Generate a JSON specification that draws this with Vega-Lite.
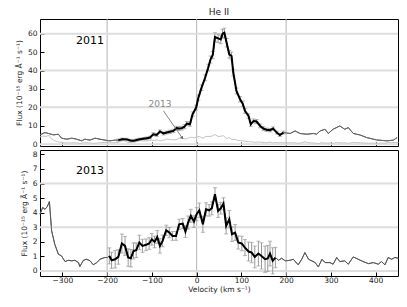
{
  "$schema": "https://vega.github.io/schema/vega-lite/v6.json",
  "padding": {"left": 14, "top": 7, "right": 4, "bottom": 2},
  "spacing": 0,
  "config": {
    "font": "DejaVu Sans",
    "view": {"stroke": "black", "strokeWidth": 1},
    "title": {"color": "#222222"},
    "axis": {
      "domain": false,
      "grid": false,
      "tickColor": "black",
      "tickSize": -4,
      "labelOverlap": false,
      "labelFontSize": 7.5,
      "labelColor": "#222",
      "titleFontSize": 7.5,
      "titleFontWeight": "normal",
      "titleColor": "#222"
    },
    "axisX": {"labelPadding": 4},
    "axisY": {"labelPadding": 7}
  },
  "datasets": {
    "gx": [{"v": -200}, {"v": 0}, {"v": 200}],
    "gy1": [{"f": 0}, {"f": 20}, {"f": 40}, {"f": 60}],
    "gy2": [{"f": 0}, {"f": 3}, {"f": 6}],
    "d2011": [
      {"v": -350, "f": 5.05}, {"v": -339, "f": 6.3}, {"v": -331, "f": 5.8}, {"v": -320, "f": 5.05},
      {"v": -309, "f": 5.4}, {"v": -302, "f": 3.25}, {"v": -290, "f": 2.7}, {"v": -279, "f": 3.25},
      {"v": -268, "f": 2.7}, {"v": -257, "f": 1.8}, {"v": -250, "f": 2.7}, {"v": -238, "f": 2.2},
      {"v": -227, "f": 3.25}, {"v": -216, "f": 2.7}, {"v": -205, "f": 2.2}, {"v": -194, "f": 1.8},
      {"v": -182, "f": 2.2},
      {"v": -175, "f": 2.2, "e": 0.6}, {"v": -166, "f": 2.7, "e": 0.6}, {"v": -156, "f": 2.6, "e": 0.6},
      {"v": -148, "f": 2.0, "e": 0.6}, {"v": -141, "f": 1.8, "e": 0.6}, {"v": -134, "f": 2.3, "e": 0.6},
      {"v": -127, "f": 2.7, "e": 0.6}, {"v": -119, "f": 3.0, "e": 0.6}, {"v": -112, "f": 3.2, "e": 0.7},
      {"v": -104, "f": 3.6, "e": 0.7}, {"v": -97, "f": 5.4, "e": 0.8}, {"v": -89, "f": 5.0, "e": 0.8},
      {"v": -82, "f": 6.9, "e": 0.8}, {"v": -74, "f": 5.8, "e": 0.8}, {"v": -67, "f": 6.3, "e": 0.8},
      {"v": -60, "f": 6.7, "e": 0.9}, {"v": -52, "f": 7.2, "e": 0.9}, {"v": -45, "f": 8.7, "e": 1.0},
      {"v": -39, "f": 8.5, "e": 1.0}, {"v": -33, "f": 8.7, "e": 1.0}, {"v": -27, "f": 9.5, "e": 1.1},
      {"v": -22, "f": 11.2, "e": 1.1}, {"v": -15, "f": 10.8, "e": 1.1}, {"v": -9, "f": 16.3, "e": 1.2},
      {"v": -1, "f": 19.9, "e": 1.3}, {"v": 4, "f": 25.3, "e": 1.4}, {"v": 11, "f": 30.7, "e": 1.5},
      {"v": 19, "f": 36.1, "e": 1.6}, {"v": 26, "f": 41.6, "e": 1.8}, {"v": 31, "f": 46.0, "e": 1.9},
      {"v": 36, "f": 48.4, "e": 2.0}, {"v": 41, "f": 58.2, "e": 2.3}, {"v": 48, "f": 57.5, "e": 2.3},
      {"v": 54, "f": 56.9, "e": 2.3}, {"v": 58, "f": 60.0, "e": 2.4}, {"v": 62, "f": 60.5, "e": 2.5},
      {"v": 67, "f": 55.1, "e": 2.3}, {"v": 73, "f": 48.8, "e": 2.1}, {"v": 78, "f": 47.9, "e": 2.1},
      {"v": 82, "f": 38.8, "e": 1.8}, {"v": 89, "f": 28.9, "e": 1.6}, {"v": 97, "f": 24.4, "e": 1.5},
      {"v": 103, "f": 22.0, "e": 1.4}, {"v": 108, "f": 18.1, "e": 1.3}, {"v": 116, "f": 15.3, "e": 1.2},
      {"v": 121, "f": 10.8, "e": 1.1}, {"v": 127, "f": 12.6, "e": 1.1}, {"v": 134, "f": 12.3, "e": 1.1},
      {"v": 142, "f": 9.9, "e": 1.0}, {"v": 149, "f": 8.5, "e": 1.0}, {"v": 156, "f": 7.8, "e": 0.9},
      {"v": 164, "f": 7.6, "e": 0.9}, {"v": 171, "f": 8.5, "e": 0.9}, {"v": 179, "f": 6.3, "e": 0.8},
      {"v": 186, "f": 5.0, "e": 0.8}, {"v": 194, "f": 6.3, "e": 0.8},
      {"v": 209, "f": 5.8}, {"v": 220, "f": 7.2}, {"v": 231, "f": 5.8}, {"v": 246, "f": 5.4},
      {"v": 261, "f": 5.8}, {"v": 268, "f": 5.4}, {"v": 276, "f": 7.2}, {"v": 287, "f": 8.1},
      {"v": 294, "f": 5.8}, {"v": 305, "f": 8.1}, {"v": 320, "f": 9.9}, {"v": 331, "f": 8.1},
      {"v": 339, "f": 9.0}, {"v": 350, "f": 5.8}, {"v": 365, "f": 5.0}, {"v": 380, "f": 3.6},
      {"v": 402, "f": 2.3}, {"v": 425, "f": 1.8}, {"v": 440, "f": 2.2}, {"v": 448, "f": 3.6}
    ],
    "d2013": [
      {"v": -350, "f": 3.9}, {"v": -344, "f": 4.35}, {"v": -339, "f": 4.23}, {"v": -334, "f": 4.4},
      {"v": -329, "f": 4.76}, {"v": -324, "f": 2.75}, {"v": -317, "f": 1.83}, {"v": -309, "f": 1.15},
      {"v": -302, "f": 1.03}, {"v": -294, "f": 0.64}, {"v": -287, "f": 0.73}, {"v": -279, "f": 0.69},
      {"v": -272, "f": 0.73}, {"v": -264, "f": 0.57}, {"v": -261, "f": 0.3}, {"v": -253, "f": 0.73},
      {"v": -246, "f": 0.8}, {"v": -238, "f": 0.69}, {"v": -231, "f": 0.42}, {"v": -223, "f": 0.57},
      {"v": -216, "f": 0.8}, {"v": -205, "f": 0.92}, {"v": -199, "f": 0.92},
      {"v": -195, "f": 1.03, "e": 0.55}, {"v": -190, "f": 0.73, "e": 0.55}, {"v": -182, "f": 0.8, "e": 0.6},
      {"v": -175, "f": 0.96, "e": 0.5}, {"v": -167, "f": 1.88, "e": 0.65}, {"v": -160, "f": 1.72, "e": 0.65},
      {"v": -153, "f": 0.92, "e": 0.6}, {"v": -147, "f": 0.87, "e": 0.6}, {"v": -141, "f": 1.37, "e": 0.55},
      {"v": -135, "f": 1.42, "e": 0.5}, {"v": -128, "f": 1.95, "e": 0.5}, {"v": -121, "f": 1.72, "e": 0.45},
      {"v": -113, "f": 1.79, "e": 0.4}, {"v": -106, "f": 1.88, "e": 0.4}, {"v": -100, "f": 2.17, "e": 0.4},
      {"v": -94, "f": 1.99, "e": 0.4}, {"v": -88, "f": 2.33, "e": 0.45}, {"v": -82, "f": 1.72, "e": 0.5},
      {"v": -76, "f": 2.06, "e": 0.4}, {"v": -68, "f": 2.79, "e": 0.35}, {"v": -61, "f": 2.63, "e": 0.35},
      {"v": -54, "f": 2.4, "e": 0.3}, {"v": -46, "f": 2.4, "e": 0.3}, {"v": -39, "f": 3.2, "e": 0.35},
      {"v": -31, "f": 3.25, "e": 0.35}, {"v": -25, "f": 2.7, "e": 0.4}, {"v": -19, "f": 3.32, "e": 0.45},
      {"v": -13, "f": 3.78, "e": 0.45}, {"v": -6, "f": 3.39, "e": 0.4}, {"v": 0, "f": 3.89, "e": 0.45},
      {"v": 6, "f": 4.16, "e": 0.5}, {"v": 14, "f": 3.2, "e": 0.55}, {"v": 21, "f": 4.23, "e": 0.45},
      {"v": 28, "f": 4.16, "e": 0.4}, {"v": 34, "f": 4.3, "e": 0.45}, {"v": 41, "f": 5.26, "e": 0.45},
      {"v": 48, "f": 4.12, "e": 0.45}, {"v": 54, "f": 4.3, "e": 0.4}, {"v": 60, "f": 4.62, "e": 0.4},
      {"v": 66, "f": 3.09, "e": 0.55}, {"v": 73, "f": 3.55, "e": 0.6}, {"v": 79, "f": 2.52, "e": 0.5},
      {"v": 86, "f": 2.63, "e": 0.55}, {"v": 93, "f": 1.95, "e": 0.45}, {"v": 101, "f": 1.88, "e": 0.5},
      {"v": 108, "f": 1.6, "e": 0.55}, {"v": 116, "f": 1.33, "e": 0.65}, {"v": 123, "f": 1.26, "e": 0.7},
      {"v": 130, "f": 0.96, "e": 0.75}, {"v": 138, "f": 1.19, "e": 0.85}, {"v": 145, "f": 1.03, "e": 0.9},
      {"v": 153, "f": 0.8, "e": 0.9}, {"v": 159, "f": 0.85, "e": 0.9}, {"v": 164, "f": 1.19, "e": 0.85},
      {"v": 170, "f": 0.69, "e": 0.9}, {"v": 176, "f": 0.92, "e": 0.7},
      {"v": 183, "f": 0.73}, {"v": 190, "f": 0.87}, {"v": 198, "f": 0.69}, {"v": 209, "f": 0.73},
      {"v": 216, "f": 0.8}, {"v": 227, "f": 0.42}, {"v": 235, "f": 0.8}, {"v": 242, "f": 1.26},
      {"v": 250, "f": 0.8}, {"v": 265, "f": 0.57}, {"v": 272, "f": 0.27}, {"v": 280, "f": 0.8},
      {"v": 287, "f": 0.57}, {"v": 298, "f": 0.57}, {"v": 305, "f": 0.46}, {"v": 313, "f": 0.92},
      {"v": 320, "f": 0.64}, {"v": 331, "f": 0.69}, {"v": 339, "f": 0.46}, {"v": 350, "f": 0.96},
      {"v": 361, "f": 0.8}, {"v": 372, "f": 0.64}, {"v": 384, "f": 0.5}, {"v": 395, "f": 0.57},
      {"v": 406, "f": 0.46}, {"v": 413, "f": 0.64}, {"v": 421, "f": 0.42}, {"v": 428, "f": 0.92},
      {"v": 436, "f": 0.8}, {"v": 443, "f": 0.92}, {"v": 451, "f": 0.87}
    ]
  },
  "vconcat": [
    {
      "width": 358,
      "height": 127,
      "title": {"text": "He II", "fontSize": 9, "fontWeight": "normal", "color": "#222222", "offset": 2},
      "layer": [
        {
          "data": {"name": "d2011"},
          "mark": {"type": "line", "color": "#666666", "strokeWidth": 1},
          "encoding": {
            "x": {"field": "v", "type": "quantitative",
              "scale": {"domain": [-350, 450], "nice": false, "zero": false},
              "axis": {"values": [-300, -200, -100, 0, 100, 200, 300, 400], "labels": false, "title": null, "labelOverlap": false}},
            "y": {"field": "f", "type": "quantitative", "title": "Flux (10⁻¹⁵ erg Å⁻¹ s⁻¹)",
              "scale": {"domain": [-1, 68], "nice": false, "zero": false},
              "axis": {"values": [0, 10, 20, 30, 40, 50, 60], "title": "Flux (10⁻¹⁵ erg Å⁻¹ s⁻¹)", "labelOverlap": false}}
          }
        },
        {
          "data": {"name": "gx"},
          "mark": {"type": "rule", "color": "#b5b5b5", "strokeWidth": 1},
          "encoding": {"x": {"field": "v", "type": "quantitative",
            "axis": {"values": [-300, -200, -100, 0, 100, 200, 300, 400], "labels": false, "title": null, "labelOverlap": false}}}
        },
        {
          "data": {"name": "gy1"},
          "mark": {"type": "rule", "color": "#dddddd", "strokeWidth": 2},
          "encoding": {"y": {"field": "f", "type": "quantitative", "title": "Flux (10⁻¹⁵ erg Å⁻¹ s⁻¹)",
            "axis": {"values": [0, 10, 20, 30, 40, 50, 60], "title": "Flux (10⁻¹⁵ erg Å⁻¹ s⁻¹)", "labelOverlap": false}}}
        },
        {
          "data": {"name": "d2011"},
          "mark": {"type": "line", "color": "#666666", "strokeWidth": 1},
          "encoding": {
            "x": {"field": "v", "type": "quantitative",
              "axis": {"values": [-300, -200, -100, 0, 100, 200, 300, 400], "labels": false, "title": null, "labelOverlap": false}},
            "y": {"field": "f", "type": "quantitative", "title": "Flux (10⁻¹⁵ erg Å⁻¹ s⁻¹)",
              "axis": {"values": [0, 10, 20, 30, 40, 50, 60], "title": "Flux (10⁻¹⁵ erg Å⁻¹ s⁻¹)", "labelOverlap": false}}
          }
        },
        {
          "data": {"name": "d2013"},
          "mark": {"type": "line", "color": "#c4c4c4", "strokeWidth": 1},
          "encoding": {
            "x": {"field": "v", "type": "quantitative",
              "axis": {"values": [-300, -200, -100, 0, 100, 200, 300, 400], "labels": false, "title": null, "labelOverlap": false}},
            "y": {"field": "f", "type": "quantitative", "title": "Flux (10⁻¹⁵ erg Å⁻¹ s⁻¹)",
              "axis": {"values": [0, 10, 20, 30, 40, 50, 60], "title": "Flux (10⁻¹⁵ erg Å⁻¹ s⁻¹)", "labelOverlap": false}}
          }
        },
        {
          "data": {"name": "d2011"},
          "transform": [{"filter": {"field": "e", "valid": true}}],
          "mark": {"type": "errorbar", "color": "#999999", "thickness": 1, "ticks": {"size": 4}},
          "encoding": {
            "x": {"field": "v", "type": "quantitative",
              "axis": {"values": [-300, -200, -100, 0, 100, 200, 300, 400], "labels": false, "title": null, "labelOverlap": false}},
            "y": {"field": "f", "type": "quantitative", "title": "Flux (10⁻¹⁵ erg Å⁻¹ s⁻¹)",
              "axis": {"values": [0, 10, 20, 30, 40, 50, 60], "title": "Flux (10⁻¹⁵ erg Å⁻¹ s⁻¹)", "labelOverlap": false}},
            "yError": {"field": "e"}
          }
        },
        {
          "data": {"name": "d2011"},
          "transform": [{"filter": {"field": "e", "valid": true}}],
          "mark": {"type": "line", "color": "black", "strokeWidth": 2},
          "encoding": {
            "x": {"field": "v", "type": "quantitative",
              "axis": {"values": [-300, -200, -100, 0, 100, 200, 300, 400], "labels": false, "title": null, "labelOverlap": false}},
            "y": {"field": "f", "type": "quantitative", "title": "Flux (10⁻¹⁵ erg Å⁻¹ s⁻¹)",
              "axis": {"values": [0, 10, 20, 30, 40, 50, 60], "title": "Flux (10⁻¹⁵ erg Å⁻¹ s⁻¹)", "labelOverlap": false}}
          }
        },
        {
          "data": {"values": [{}]},
          "mark": {"type": "text", "text": "2011", "fontSize": 11, "color": "black", "align": "center", "baseline": "middle"},
          "encoding": {
            "x": {"datum": -238, "type": "quantitative",
              "axis": {"values": [-300, -200, -100, 0, 100, 200, 300, 400], "labels": false, "title": null, "labelOverlap": false}},
            "y": {"datum": 56, "type": "quantitative", "title": "Flux (10⁻¹⁵ erg Å⁻¹ s⁻¹)",
              "axis": {"values": [0, 10, 20, 30, 40, 50, 60], "title": "Flux (10⁻¹⁵ erg Å⁻¹ s⁻¹)", "labelOverlap": false}}
          }
        },
        {
          "data": {"values": [{}]},
          "mark": {"type": "text", "text": "2013", "fontSize": 9, "color": "#888888", "align": "center", "baseline": "middle"},
          "encoding": {
            "x": {"datum": -82, "type": "quantitative",
              "axis": {"values": [-300, -200, -100, 0, 100, 200, 300, 400], "labels": false, "title": null, "labelOverlap": false}},
            "y": {"datum": 21.7, "type": "quantitative", "title": "Flux (10⁻¹⁵ erg Å⁻¹ s⁻¹)",
              "axis": {"values": [0, 10, 20, 30, 40, 50, 60], "title": "Flux (10⁻¹⁵ erg Å⁻¹ s⁻¹)", "labelOverlap": false}}
          }
        },
        {
          "data": {"values": [{}]},
          "mark": {"type": "rule", "color": "#666666", "strokeWidth": 0.8},
          "encoding": {
            "x": {"datum": -74, "type": "quantitative",
              "axis": {"values": [-300, -200, -100, 0, 100, 200, 300, 400], "labels": false, "title": null, "labelOverlap": false}},
            "y": {"datum": 18.1, "type": "quantitative", "title": "Flux (10⁻¹⁵ erg Å⁻¹ s⁻¹)",
              "axis": {"values": [0, 10, 20, 30, 40, 50, 60], "title": "Flux (10⁻¹⁵ erg Å⁻¹ s⁻¹)", "labelOverlap": false}},
            "x2": {"datum": -32}, "y2": {"datum": 3.3}
          }
        },
        {
          "data": {"values": [{}]},
          "mark": {"type": "point", "shape": "triangle-down", "filled": true, "color": "#666666", "size": 12, "angle": 326, "opacity": 1},
          "encoding": {
            "x": {"datum": -32, "type": "quantitative",
              "axis": {"values": [-300, -200, -100, 0, 100, 200, 300, 400], "labels": false, "title": null, "labelOverlap": false}},
            "y": {"datum": 3.3, "type": "quantitative", "title": "Flux (10⁻¹⁵ erg Å⁻¹ s⁻¹)",
              "axis": {"values": [0, 10, 20, 30, 40, 50, 60], "title": "Flux (10⁻¹⁵ erg Å⁻¹ s⁻¹)", "labelOverlap": false}}
          }
        }
      ]
    },
    {
      "width": 358,
      "height": 126,
      "layer": [
        {
          "data": {"name": "d2013"},
          "mark": {"type": "line", "color": "#555555", "strokeWidth": 0.9},
          "encoding": {
            "x": {"field": "v", "type": "quantitative", "title": "Velocity (km s⁻¹)",
              "scale": {"domain": [-350, 450], "nice": false, "zero": false},
              "axis": {"values": [-300, -200, -100, 0, 100, 200, 300, 400], "title": "Velocity (km s⁻¹)", "titlePadding": 2, "labelOverlap": false}},
            "y": {"field": "f", "type": "quantitative", "title": "Flux (10⁻¹⁵ erg Å⁻¹ s⁻¹)",
              "scale": {"domain": [-0.35, 8.3], "nice": false, "zero": false},
              "axis": {"values": [0, 1, 2, 3, 4, 5, 6, 7, 8], "title": "Flux (10⁻¹⁵ erg Å⁻¹ s⁻¹)", "labelOverlap": false}}
          }
        },
        {
          "data": {"name": "gx"},
          "mark": {"type": "rule", "color": "#b5b5b5", "strokeWidth": 1},
          "encoding": {"x": {"field": "v", "type": "quantitative", "title": "Velocity (km s⁻¹)",
            "axis": {"values": [-300, -200, -100, 0, 100, 200, 300, 400], "title": "Velocity (km s⁻¹)", "titlePadding": 2, "labelOverlap": false}}}
        },
        {
          "data": {"name": "gy2"},
          "mark": {"type": "rule", "color": "#dddddd", "strokeWidth": 2},
          "encoding": {"y": {"field": "f", "type": "quantitative", "title": "Flux (10⁻¹⁵ erg Å⁻¹ s⁻¹)",
            "axis": {"values": [0, 1, 2, 3, 4, 5, 6, 7, 8], "title": "Flux (10⁻¹⁵ erg Å⁻¹ s⁻¹)", "labelOverlap": false}}}
        },
        {
          "data": {"name": "d2013"},
          "mark": {"type": "line", "color": "#555555", "strokeWidth": 0.9},
          "encoding": {
            "x": {"field": "v", "type": "quantitative", "title": "Velocity (km s⁻¹)",
              "axis": {"values": [-300, -200, -100, 0, 100, 200, 300, 400], "title": "Velocity (km s⁻¹)", "titlePadding": 2, "labelOverlap": false}},
            "y": {"field": "f", "type": "quantitative", "title": "Flux (10⁻¹⁵ erg Å⁻¹ s⁻¹)",
              "axis": {"values": [0, 1, 2, 3, 4, 5, 6, 7, 8], "title": "Flux (10⁻¹⁵ erg Å⁻¹ s⁻¹)", "labelOverlap": false}}
          }
        },
        {
          "data": {"name": "d2013"},
          "transform": [{"filter": {"field": "e", "valid": true}}],
          "mark": {"type": "errorbar", "color": "#999999", "thickness": 1, "ticks": {"size": 4}},
          "encoding": {
            "x": {"field": "v", "type": "quantitative", "title": "Velocity (km s⁻¹)",
              "axis": {"values": [-300, -200, -100, 0, 100, 200, 300, 400], "title": "Velocity (km s⁻¹)", "titlePadding": 2, "labelOverlap": false}},
            "y": {"field": "f", "type": "quantitative", "title": "Flux (10⁻¹⁵ erg Å⁻¹ s⁻¹)",
              "axis": {"values": [0, 1, 2, 3, 4, 5, 6, 7, 8], "title": "Flux (10⁻¹⁵ erg Å⁻¹ s⁻¹)", "labelOverlap": false}},
            "yError": {"field": "e"}
          }
        },
        {
          "data": {"name": "d2013"},
          "transform": [{"filter": {"field": "e", "valid": true}}],
          "mark": {"type": "line", "color": "black", "strokeWidth": 2},
          "encoding": {
            "x": {"field": "v", "type": "quantitative", "title": "Velocity (km s⁻¹)",
              "axis": {"values": [-300, -200, -100, 0, 100, 200, 300, 400], "title": "Velocity (km s⁻¹)", "titlePadding": 2, "labelOverlap": false}},
            "y": {"field": "f", "type": "quantitative", "title": "Flux (10⁻¹⁵ erg Å⁻¹ s⁻¹)",
              "axis": {"values": [0, 1, 2, 3, 4, 5, 6, 7, 8], "title": "Flux (10⁻¹⁵ erg Å⁻¹ s⁻¹)", "labelOverlap": false}}
          }
        },
        {
          "data": {"values": [{}]},
          "mark": {"type": "text", "text": "2013", "fontSize": 11, "color": "black", "align": "center", "baseline": "middle"},
          "encoding": {
            "x": {"datum": -238, "type": "quantitative", "title": "Velocity (km s⁻¹)",
              "axis": {"values": [-300, -200, -100, 0, 100, 200, 300, 400], "title": "Velocity (km s⁻¹)", "titlePadding": 2, "labelOverlap": false}},
            "y": {"datum": 6.86, "type": "quantitative", "title": "Flux (10⁻¹⁵ erg Å⁻¹ s⁻¹)",
              "axis": {"values": [0, 1, 2, 3, 4, 5, 6, 7, 8], "title": "Flux (10⁻¹⁵ erg Å⁻¹ s⁻¹)", "labelOverlap": false}}
          }
        }
      ]
    }
  ]
}
